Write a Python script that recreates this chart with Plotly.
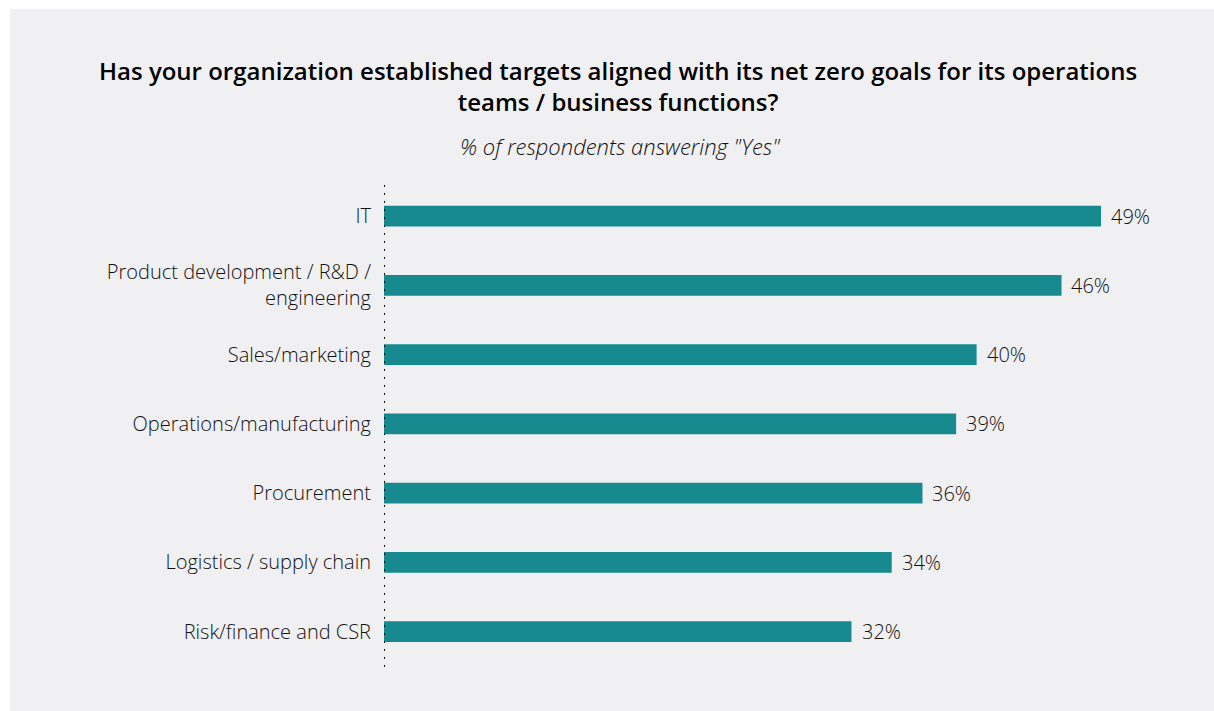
import plotly.graph_objects as go

functions = [
    "IT",
    "Product development / R&D /<br>engineering",
    "Sales/marketing",
    "Operations/manufacturing",
    "Procurement",
    "Logistics / supply chain",
    "Risk/finance and CSR",
]
# bar lengths (labels are the printed, truncated values)
share_yes = [49.0, 46.3, 40.5, 39.1, 36.8, 34.7, 31.95]
share_labels = ["49%", "46%", "40%", "39%", "36%", "34%", "32%"]

title = ("Has your organization established targets aligned with its net zero goals for its operations"
         "<br>teams / business functions?")
subtitle = "% of respondents answering \"Yes\""

BAR_COLOR = "#168a8f"
PANEL = "#f0f0f2"
TEXT = "#111111"
FONT = "Open Sans"

W, H = 1214, 711
ML, MR, MT, MB = 384, 60, 185, 44
plot_w = W - ML - MR
plot_h = H - MT - MB


def px_x(px):
    # page pixel -> paper x
    return (px - ML) / plot_w


def px_y(py):
    # page pixel (from top) -> paper y
    return (H - MB - py) / plot_h


fig = go.Figure()

fig.add_trace(
    go.Bar(
        x=share_yes,
        y=functions,
        orientation="h",
        marker=dict(color=BAR_COLOR, line_width=0),
        customdata=share_labels,
        hovertemplate="%{y}: %{customdata}<extra></extra>",
        showlegend=False,
    )
)

# value labels right of each bar
for name, val, lab in zip(functions, share_yes, share_labels):
    fig.add_annotation(
        x=val, y=name, text=lab, showarrow=False,
        xanchor="left", xshift=8,
        font=dict(family=FONT, size=20, color=TEXT, weight=300),
    )

# grey panel with thin white border
fig.add_shape(
    type="rect", xref="paper", yref="paper", layer="below",
    x0=px_x(10), x1=px_x(W), y0=px_y(H), y1=px_y(9),
    fillcolor=PANEL, line_width=0,
)

# dotted baseline
fig.add_shape(
    type="line", xref="x", yref="paper", x0=0, x1=0, y0=0, y1=1,
    line=dict(color="#111111", width=2, dash="2px,6px"),
)

# title and subtitle
fig.add_annotation(
    xref="paper", yref="paper", x=px_x(618), y=px_y(86),
    text=title, showarrow=False, xanchor="center", yanchor="middle", align="center",
    font=dict(family=FONT, size=24, color="#000000", weight=600),
)
fig.add_annotation(
    xref="paper", yref="paper", x=px_x(620), y=px_y(146),
    text=f"<i>{subtitle}</i>",
    showarrow=False, xanchor="center", yanchor="middle",
    font=dict(family=FONT, size=22, color="#111111", weight=300),
)

fig.update_layout(
    width=W, height=H,
    margin=dict(l=ML, r=MR, t=MT, b=MB),
    paper_bgcolor="white",
    plot_bgcolor="rgba(0,0,0,0)",
    bargap=0.7,
    font=dict(family=FONT, size=20, color=TEXT),
    showlegend=False,
)

fig.update_xaxes(
    range=[0, 49 * plot_w / 717],
    visible=False,
    showgrid=False,
    zeroline=False,
)

fig.update_yaxes(
    type="category",
    categoryorder="array",
    categoryarray=functions,
    range=[6.51, -0.45],
    showgrid=False,
    zeroline=False,
    showline=False,
    ticks="",
    ticklabelstandoff=12,
    tickfont=dict(family=FONT, size=20, color=TEXT, weight=300),
)

fig.write_html(
    "out.html",
    config={"displayModeBar": False},
    post_script="document.body.style.margin='0';",
)
